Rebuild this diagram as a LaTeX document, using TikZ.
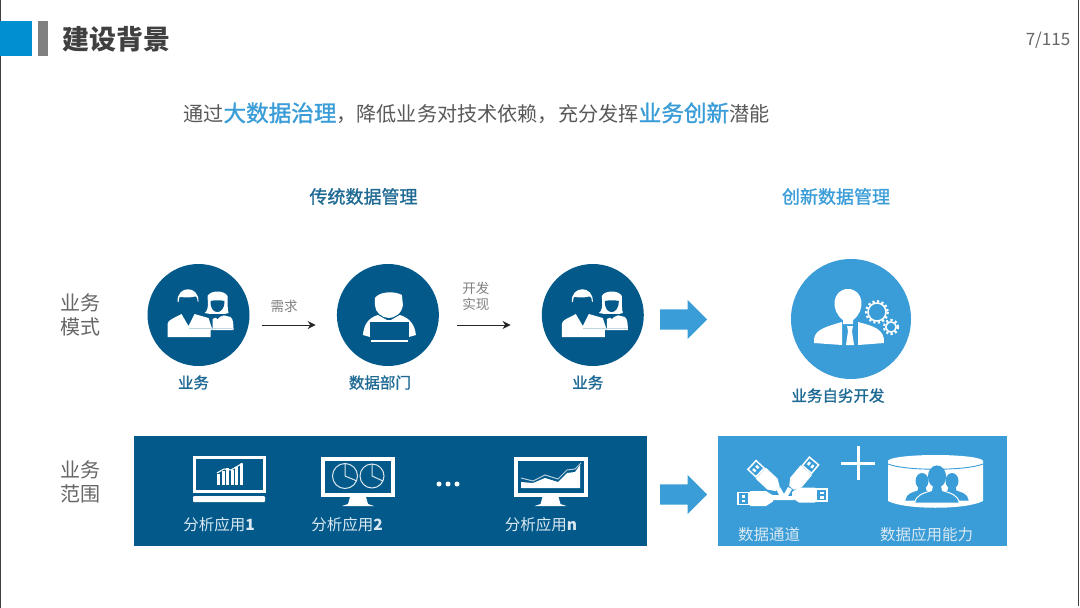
\documentclass[tikz,border=0pt]{standalone}
\usepackage{fontspec}
\setmainfont{Noto Sans CJK SC}
\newfontfamily\semifont[FakeBold=1.2]{Noto Sans CJK SC}
\usepackage{xcolor}
\usetikzlibrary{arrows.meta,positioning,shapes.arrows,calc}
\definecolor{deepblue}{HTML}{035A8A}
\definecolor{skyblue}{HTML}{3A9DD8}
\definecolor{tagblue}{HTML}{0090D2}
\definecolor{headblue}{HTML}{1F6A94}
\definecolor{paleblue}{HTML}{D9E8F2}
\newcommand{\fsz}[1]{\fontsize{#1}{#1}\selectfont}
\tikzset{
  peopleicon/.pic={
    % back figure first, front figure over it
    \fill[white] (14,15) -- (14,4) -- (24,0) -- (32,2) .. controls (35,4) and (35,10) .. (35,15) -- cycle;
    \fill[white] (9,-19) .. controls (10,-7) and (9,-4) .. (6,-2) -- (12,-1) -- (26,-1) -- (30,-2) .. controls (29,-6) and (29,-12) .. (29,-19)  .. controls (26,-25) and (12,-25) .. (9,-19) -- cycle;
    \fill[deepblue] (12,-14) .. controls (16,-15) and (22,-15) .. (26,-14) .. controls (26,-6) and (22,-3) .. (19,-3) .. controls (15,-3) and (12,-6) .. (12,-14) -- cycle;
    \fill[deepblue] (10,-1) -- (28,-1) -- (21,2) -- (19,4) -- (17,2) -- cycle;
    \fill[deepblue] (-22,-20) .. controls (-22,-30) and (2,-30) .. (2,-20) -- (2,-4) -- (-22,-4) -- cycle;
    \fill[white] (-21,-13) .. controls (-22,-30) and (1,-30) .. (0,-13) -- (-1,-14) .. controls (-1,-19) and (-3,-19) .. (-6,-18) .. controls (-10,-17) and (-17,-18) .. (-19,-18) -- (-20,-13) -- cycle;
    \fill[white] (-31,22) -- (-31,9) .. controls (-31,5) and (-24,3) .. (-17,-1) -- (-10,11) -- (-4,-1) -- (10,3) -- (14,15) -- (12,15) -- (12,22) -- cycle;
    \draw[white!75!deepblue,line width=.5] (-10,13) -- (35,13);
  },
  analystglyph/.pic={
    \fill[white] (-13,-17) .. controls (-8,-24) and (7,-24) .. (14,-20) -- (15,-10) .. controls (14,-1) and (6,3) .. (1,3) .. controls (-6,3) and (-13,-3) .. (-13,-10) -- cycle;
    \fill[white] (-25,20) .. controls (-24,10) and (-20,3) .. (-10,0) -- (-1,5) -- (3,5) -- (12,0) .. controls (22,3) and (27,10) .. (28,20) -- (21,22) -- (-18,22) -- cycle;
    \fill[deepblue] (-18,7) rectangle (21,24);
    \fill[white] (-17,25) rectangle (20,27);
  },
  gearwheel/.pic={
    \draw[white,line width=1.5] (0,0) circle (\gearr);
    \draw[white,line width=2.2,dash pattern=on 2.2 off 2.4] (0,0) circle (\gearr+1.8);
  },
  managerglyph/.pic={
    \fill[white] (-8,1) .. controls (-21,-8) and (-19,-30) .. (-3,-30) .. controls (13,-30) and (15,-8) .. (2,1) -- (2,5) -- (-8,5) -- cycle;
    \fill[white] (-37,24) .. controls (-38,12) and (-30,9) .. (-9,3) -- (-9,26) -- cycle;
    \fill[white] (7,3) .. controls (22,7) and (34,10) .. (33,24) -- (7,26) -- cycle;
    \fill[white] (-4,7) -- (2,7) -- (1,12) -- (3,26) -- (-5,26) -- (-3,12) -- cycle;
  },
  laptopglyph/.pic={
    \draw[white,line width=3] (-35,-26) rectangle (35,8);
    \fill[white,rounded corners=1pt] (-36,13) rectangle (36,19);
    \foreach \bx/\bh in {-12/11,-7.5/14,-3/17,1.5/15,6/18,10.5/21}
      \fill[white] (\bx,2) rectangle ++(3.4,-\bh);
    \draw[white,line width=1.1,-{Stealth[length=3pt]}] (-12,-10) -- (-5,-14) -- (2,-13) -- (14,-20);
  },
  monitorglyph/.pic={
    \draw[white,line width=4] (-35,-26) rectangle (35,10);
    \fill[white] (-8,12) -- (8,12) -- (10,19) -- (16,21) -- (-16,21) -- (-10,19) -- cycle;
  },
  usbplug/.pic={
    \draw[white,line width=1.5] (0,-6) rectangle (11,6);
    \fill[white] (3.5,-3.5) rectangle (7,-1);
    \fill[white] (3.5,1) rectangle (7,3.5);
    \fill[white] (12,-7.5) -- (28,-7.5) -- (35,-3) -- (35,3) -- (28,7.5) -- (12,7.5) -- cycle;
  },
  bustglyph/.pic={
    \filldraw[fill=skyblue,draw=\bustedge,line width=1] (-3,5) -- (3,5) -- (4,9) .. controls (10,11) and (15,12) .. (16,18) -- (-16,18) .. controls (-15,12) and (-10,11) .. (-4,9) -- cycle;
    \fill[skyblue] (0,-1) ellipse [x radius=6.5, y radius=8];
  }
}
\begin{document}
\begin{tikzpicture}[
  x=1pt, y=-1pt,
  hub/.style={circle, fill=deepblue, minimum size=102pt, inner sep=0pt},
  hubnew/.style={circle, fill=skyblue, minimum size=120pt, inner sep=0pt},
  panel/.style={fill=#1, inner sep=0pt, anchor=north west},
  caption/.style={text=headblue, font=\fsz{15.5}\semifont, inner sep=0pt},
  sidelabel/.style={text=black!60, font=\fsz{20}, align=center, inner sep=0pt},
  needtext/.style={text=black!50, font=\fsz{13.5}, align=center, inner sep=0pt},
  panellabel/.style={text=paleblue, font=\fsz{15.5}, inner sep=0pt},
  arr/.style={-{Stealth[length=8pt,width=8pt]}, line width=1pt, black!85},
  blockarr/.style={single arrow, fill=skyblue, inner xsep=0pt, inner ysep=10pt, minimum height=47pt,
                   minimum width=39pt, single arrow head extend=9.5pt,
                   single arrow tip angle=90, anchor=west},
]
\useasboundingbox (0,0) rectangle (1080,608);
\fill[white] (0,0) rectangle (1080,608);
\fill[black!75] (0,0) rectangle (1.2,608);
\fill[black!75] (1077.5,0) rectangle (1079,606);

\node[fill=tagblue, minimum width=32pt, minimum height=35pt, inner sep=0pt] (tag) at (16,38.5) {};
\node[fill=black!50, minimum width=10pt, minimum height=35pt, inner sep=0pt, right=6pt of tag] (tagbar) {};
\node[text=black!75, font=\fsz{27}\bfseries, inner sep=0pt, right=14pt of tagbar, yshift=-1pt] (title) {建设背景};
\node[text=black!60, font=\fsz{17}, inner sep=0pt] (pageno) at (1048,40) {7/115};

\node[text=black!65, font=\fsz{20.15}, inner sep=0pt, anchor=west] (lead) at (183,113)
  {通过{\color{skyblue}\fsz{22.6}\semifont 大数据治理}，降低业务对技术依赖，充分发挥{\color{skyblue}\fsz{22.6}\semifont 业务创新}潜能};

\node[text=headblue, font=\fsz{18}\semifont, inner sep=0pt] (oldhead) at (363.5,196.5) {传统数据管理};
\node[text=skyblue, font=\fsz{18}\semifont, inner sep=0pt] (newhead) at (836,196.5) {创新数据管理};

\node[sidelabel] (modelabel) at (80,315) {业务\\[4pt]模式};
\node[sidelabel] (scopelabel) at (80,482) {业务\\[4pt]范围};

\node[hub] (biz) at (198.5,315) {};
\node[hub, right=87pt of biz] (dept) {};
\node[hub, right=102.5pt of dept] (bizb) {};
\node[hubnew] (self) at (851,319) {};
\pic at (biz) {peopleicon};
\pic at (bizb) {peopleicon};
\pic at (dept) {analystglyph};
\pic at (self) {managerglyph};
\def\gearr{9}
\pic at ($(self)+(26,-7)$) {gearwheel};
\def\gearr{5.2}
\pic at ($(self)+(40,8)$) {gearwheel};

\node[caption, below=9pt of biz, xshift=-5pt] (bizcap) {业务};
\node[caption, below=9pt of dept, xshift=-8pt] (deptcap) {数据部门};
\node[caption, below=9pt of bizb, xshift=-5pt] (bizbcap) {业务};
\node[caption, below=9pt of self, xshift=-13pt] (selfcap) {业务自劣开发};

\draw[arr] ([shift={(12,10)}]biz.east) -- node[needtext, above=12pt, xshift=-4.5pt] (needtag) {需求} ([shift={(-21,10)}]dept.west);
\draw[arr] ([shift={(18,10)}]dept.east) -- node[needtext, above=14pt, xshift=-8pt] (devtag) {开发\\[2pt]实现} ([shift={(-31,10)}]bizb.west);
\node[blockarr] (shiftup) at (660,319.5) {};

\node[panel=deepblue, minimum width=513pt, minimum height=110pt] (oldpanel) at (134,436) {};
\node[panel=skyblue, minimum width=289pt, minimum height=110pt] (newpanel) at (718,436) {};
\node[blockarr] (shiftdown) at (660,494.5) {};

% application icons
\pic at (229,483) {laptopglyph};
\pic at (358,485) {monitorglyph};
\pic at (550.5,485) {monitorglyph};
\draw[white!85!deepblue,line width=1] (345,476) circle (12.5) (345,476) -- (345,463.5) (345,476) -- (357,481);
\draw[white!85!deepblue,line width=1] (372,476) circle (12) (372,476) -- (372,464) (372,476) -- (383,481);
\foreach \dotx in {439,448,457} \fill[white] (\dotx,484) circle (2.5);
\fill[white] (521,488) -- (521,482) -- (533,483) -- (545,478) -- (558,482) -- (567,473) -- (575,472) -- (580,465) -- (580,488) -- cycle;
\draw[white!70!deepblue,line width=1] (521,478) -- (533,481) -- (545,475) -- (558,479) -- (567,470) -- (575,469) -- (581,463);
\node[panellabel] (appa) at (219,525) {分析应用{\bfseries 1}};
\node[panellabel] (appb) at (347,525) {分析应用{\bfseries 2}};
\node[panellabel] (appn) at (541,525) {分析应用{\bfseries n}};

% usb plugs around the hub
\pic at (738,498.5) {usbplug};
\pic[rotate=180] at (827,495) {usbplug};
\pic[rotate=-43] at (752,465) {usbplug};
\pic[rotate=-130] at (814,461) {usbplug};
\fill[white] (772,495) -- (779,495) -- (776,489) -- (780,487) -- (784,494) -- (788,487) -- (792,489) -- (788,496) -- (794,496) -- (794,500) -- (772,500) -- cycle;

\node[fill=white, minimum width=34pt, minimum height=3pt, inner sep=0pt] (plusbar) at (858,463) {};
\node[fill=white, minimum width=3pt, minimum height=34pt, inner sep=0pt] (plusstem) at (858,463) {};

% drum with the user group
\fill[white] (888,461) -- (983,461) -- (983,501) .. controls (966,510) and (905,510) .. (888,501) -- cycle;
\fill[white] (935.5,461) ellipse [x radius=47.5, y radius=6];
\draw[skyblue,line width=.9] (888,464) .. controls (905,471) and (966,471) .. (983,464);
\def\bustedge{skyblue}
\pic at (922,482) {bustglyph};
\pic at (952,482) {bustglyph};
\def\bustedge{white}
\pic[scale=1.4] at (937,478) {bustglyph};
\node[panellabel] (chan) at (769,535) {数据通道};
\node[panellabel] (ability) at (926.5,535) {数据应用能力};
\end{tikzpicture}
\end{document}
